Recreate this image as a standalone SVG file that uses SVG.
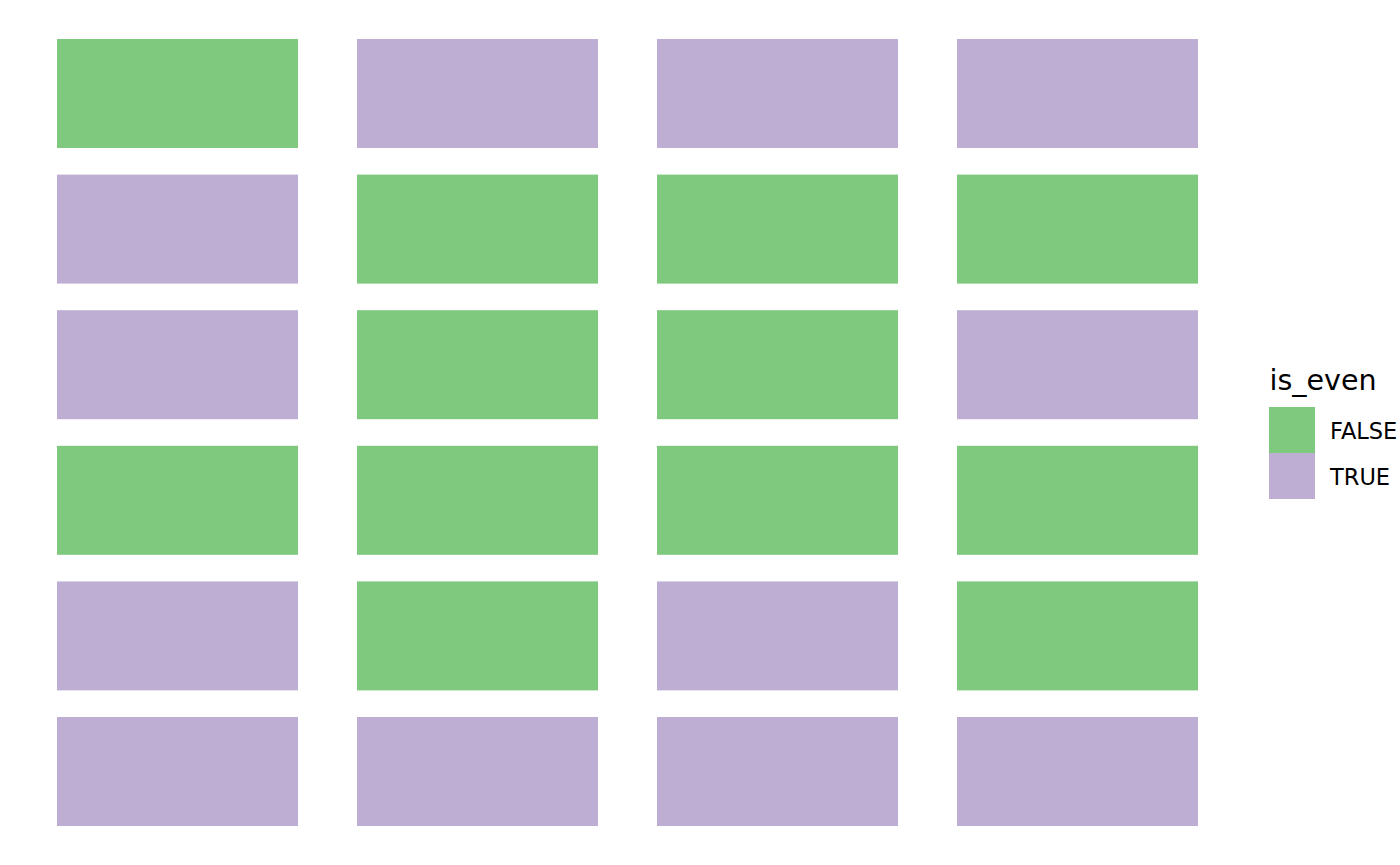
<svg xmlns="http://www.w3.org/2000/svg" width="1400" height="865" viewBox="0 0 1400 865">
<style>
.f{fill:#7FC97F}.t{fill:#BEAED4}
text{font-family:"DejaVu Sans",sans-serif;fill:#000}
.lab{font-size:22.5px}.ttl{font-size:28.5px}
</style>
<rect width="1400" height="865" fill="#fff"/>
<g id="tiles">
<g id="r1">
<rect class="f" x="57" y="39" width="241" height="109"/>
<rect class="t" x="357" y="39" width="241" height="109"/>
<rect class="t" x="657" y="39" width="241" height="109"/>
<rect class="t" x="957" y="39" width="241" height="109"/>
</g>
<g id="r2">
<rect class="t" x="57" y="174.6" width="241" height="109"/>
<rect class="f" x="357" y="174.6" width="241" height="109"/>
<rect class="f" x="657" y="174.6" width="241" height="109"/>
<rect class="f" x="957" y="174.6" width="241" height="109"/>
</g>
<g id="r3">
<rect class="t" x="57" y="310.2" width="241" height="109"/>
<rect class="f" x="357" y="310.2" width="241" height="109"/>
<rect class="f" x="657" y="310.2" width="241" height="109"/>
<rect class="t" x="957" y="310.2" width="241" height="109"/>
</g>
<g id="r4">
<rect class="f" x="57" y="445.8" width="241" height="109"/>
<rect class="f" x="357" y="445.8" width="241" height="109"/>
<rect class="f" x="657" y="445.8" width="241" height="109"/>
<rect class="f" x="957" y="445.8" width="241" height="109"/>
</g>
<g id="r5">
<rect class="t" x="57" y="581.4" width="241" height="109"/>
<rect class="f" x="357" y="581.4" width="241" height="109"/>
<rect class="t" x="657" y="581.4" width="241" height="109"/>
<rect class="f" x="957" y="581.4" width="241" height="109"/>
</g>
<g id="r6">
<rect class="t" x="57" y="717" width="241" height="109"/>
<rect class="t" x="357" y="717" width="241" height="109"/>
<rect class="t" x="657" y="717" width="241" height="109"/>
<rect class="t" x="957" y="717" width="241" height="109"/>
</g>
</g>
<g id="legend">
<text class="ttl" x="1269.5" y="390">is_even</text>
<rect class="f" x="1269" y="407" width="46" height="46"/>
<rect class="t" x="1269" y="453" width="46" height="46"/>
<text class="lab" x="1330" y="439">FALSE</text>
<text class="lab" x="1330" y="485">TRUE</text>
</g>
<g id="connectors"/>
</svg>
